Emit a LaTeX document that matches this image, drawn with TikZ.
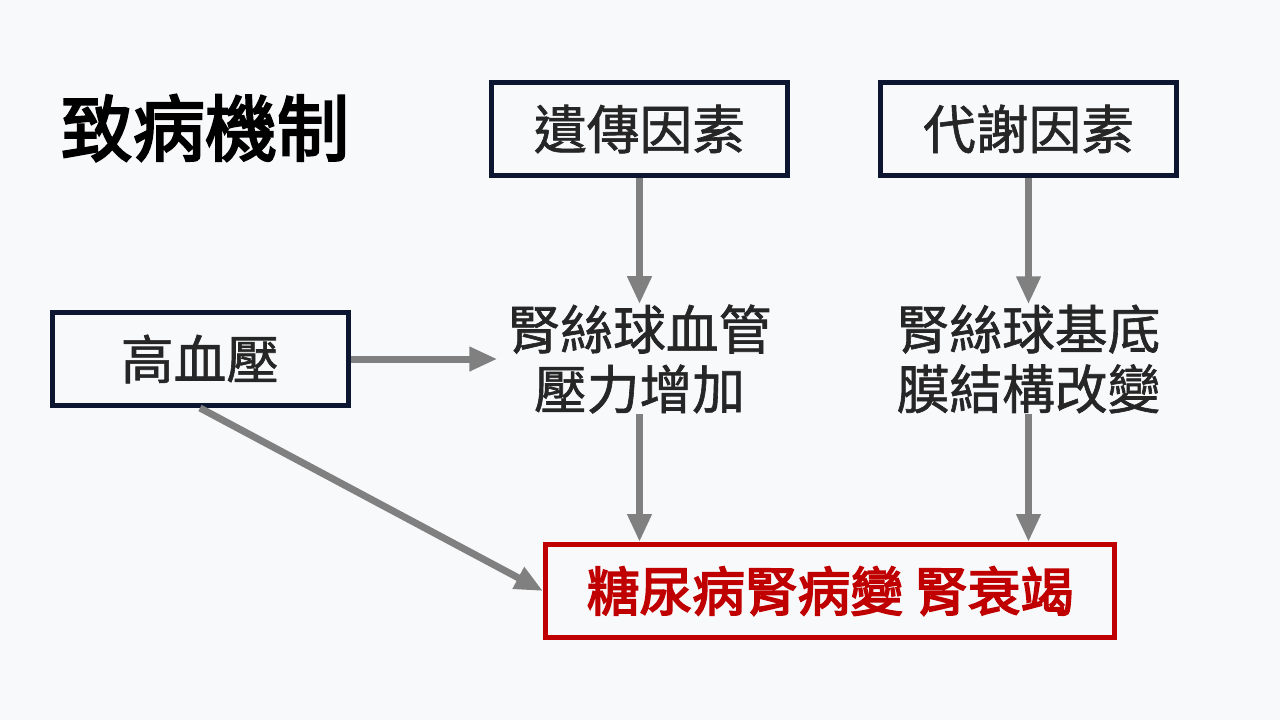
\documentclass[tikz,border=0pt]{standalone}
\usepackage{fontspec}
\setmainfont{Noto Sans CJK TC}
\newfontfamily\cjkmedium{Noto Sans CJK TC}[FakeBold=1.2]
\newfontfamily\cjkheavy{Noto Sans CJK TC}[FakeBold=3.2]
\usepackage{tikz}
\usetikzlibrary{arrows.meta,positioning,calc}

\definecolor{BoxNavy}{RGB}{12,22,48}
\definecolor{OutcomeRed}{RGB}{192,0,0}
\definecolor{ArrowGray}{RGB}{128,128,128}
\definecolor{PageBg}{RGB}{248,249,251}
\definecolor{TextDark}{RGB}{38,38,38}

\begin{document}
\begin{tikzpicture}[
    node distance=1.76cm,
    box/.style={rectangle, draw=BoxNavy, line width=0.1cm, fill=PageBg, minimum width=5.92cm, minimum height=1.86cm, align=center, text=TextDark, font=\fontsize{30}{34}\cjkmedium},
    factor/.style={align=center, inner xsep=0.2cm, inner ysep=0pt, text=TextDark, font=\fontsize{30}{34}\cjkmedium},
    outcome/.style={rectangle, draw=OutcomeRed, line width=0.1cm, fill=PageBg, minimum width=11.38cm, minimum height=1.86cm, align=center, text=OutcomeRed, font=\fontsize{30}{34}\cjkheavy},
    line/.style={-{Triangle[length=0.56cm, width=0.46cm]}, line width=0.14cm, draw=ArrowGray}
]
    \fill[PageBg] (0,0) rectangle (25.6,-14.4);
    \useasboundingbox (0,0) rectangle (25.6,-14.4);

    \node[font=\fontsize{41}{46}\cjkheavy] (title) at (4.1,-2.56) {致病機制};
    \node[box] (gene) at (12.79,-2.58) {遺傳因素};
    \node[box, right=of gene] (meta) {代謝因素};
    \node[box] (hbp) at (4.0,-7.18) {高血壓};
    \node[factor] (pressure) at (gene |- hbp) {腎絲球血管\\壓力增加};
    \node[factor] (basement) at (meta |- hbp) {腎絲球基底\\膜結構改變};
    \node[outcome] (kidney) at (16.6,-11.82) {糖尿病腎病變 腎衰竭};

    \draw[line] (gene) -- (pressure);
    \draw[line] (meta) -- (basement);
    \draw[line] (hbp) -- (pressure);
    \draw[line] (pressure) -- (pressure |- kidney.north);
    \draw[line] (basement) -- (basement |- kidney.north);
    \draw[line] (hbp.south) -- (kidney.west);
\end{tikzpicture}
\end{document}
